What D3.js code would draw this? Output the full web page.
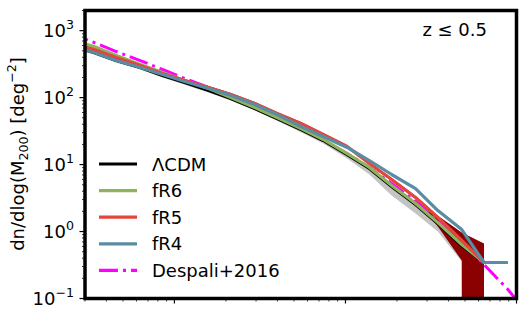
<!DOCTYPE html>
<html>
<head>
<meta charset="utf-8">
<script src="https://cdn.jsdelivr.net/npm/d3@7"></script>
<style>
  body { margin: 0; background: #fff; }
  svg { display: block; font-family: "DejaVu Sans", sans-serif; }
</style>
</head>
<body>
<svg id="chart" width="526" height="317"></svg>
<script>
// mass bins, log10(M200)
const logM = [13.39, 13.53, 13.66, 13.80, 13.93, 14.06, 14.20, 14.33, 14.47, 14.60,
  14.74, 14.87, 15.01, 15.14, 15.27, 15.41, 15.54, 15.68, 15.81, 15.95];

const lcdm = [600, 472, 358, 282, 214, 168, 128, 97, 68.8, 48.8,
  33.4, 22.9, 14.1, 8.74, 4.71, 2.53, 1.32, 0.619, 0.345, null];
const lcdmLo = [558, 439, 333, 262, 199, 156, 119, 90, 64, 45,
  30.5, 20.6, 12.3, 7.11, 3.45, 1.86, 1.0, 0.357, 0, null];
const lcdmHi = [642, 505, 383, 302, 229, 180, 137, 104, 74, 52,
  36, 24.5, 15.2, 9.5, 5.2, 2.8, 1.5, 0.843, 0.663, null];

const fR6 = [738, 580, 425, 312, 237, 180, 137, 100, 71.1, 50.5,
  34.6, 23.7, 14.6, 9.04, 4.87, 2.62, 1.36, 0.64, 0.345, null];

const fR5 = [643, 523, 397, 302, 229, 180, 142, 111, 81.7, 57.9,
  41.1, 28.1, 18.6, 10.4, 5.98, 3.22, 1.62, 0.735, 0.345, null];
const fR5Lo = [611, 497, 377, 287, 218, 171, 135, 105, 77.6, 55.0,
  39.0, 26.7, 17.7, 9.9, 5.68, 3.06, 1.19, 0.369, 0, null];
const fR5Hi = [675, 549, 417, 317, 240, 189, 149, 117, 85.8, 60.8,
  43.2, 29.5, 19.5, 10.9, 6.3, 3.4, 1.72, 0.967, 0.663, null];

const fR4 = [600, 472, 358, 282, 221, 174, 137, 108, 78.9, 56.0,
  37.1, 26.3, 18.0, 11.5, 7.11, 4.39, 2.06, 1.07, 0.345, 0.345];

const despaliLogM = [13.39, 13.53, 13.66, 13.80, 13.93, 14.06, 14.20, 14.33, 14.47, 14.60,
  14.74, 14.87, 15.01, 15.14, 15.27, 15.41, 15.54, 15.68, 15.81, 15.95, 16.08];
const despali = [907, 665, 488, 358, 263, 193, 142, 104, 73.6, 52.2,
  34.6, 22.9, 14.6, 9.04, 5.21, 2.81, 1.46, 0.709, 0.322, 0.136, 0.054];

const yTicks = [0.1, 1, 10, 100, 1000];
const yTickExp = ["\u22121", "0", "1", "2", "3"];

const series = [
  { name: "\u039bCDM", values: lcdm, color: "#000000" },
  { name: "fR6", values: fR6, color: "#8db35c" },
  { name: "fR5", values: fR5, color: "#e2473b" },
  { name: "fR4", values: fR4, color: "#5a8ca6" },
];

const svg = d3.select("#chart");
const pL = 85, pR = 516.5, pT = 10.5, pB = 298.5;

const x = d3.scaleLog().domain([3e13, 1e16]).range([pL, pR]);
const y = d3.scaleLog().domain([0.1, 2000]).range([pB, pT]);

svg.append("defs").append("clipPath").attr("id", "clip")
  .append("rect")
  .attr("x", pL).attr("y", pT)
  .attr("width", pR - pL).attr("height", pB - pT);

const body = svg.append("g").attr("clip-path", "url(#clip)");

// lower bound of 0 drops far below the axis
const yLo = (v) => (v > 0 ? y(v) : pB + 20000);

function band(lo, hi) {
  const pts = logM.map((m, i) => ({ m: m, lo: lo[i], hi: hi[i] }));
  return d3.area()
    .defined((d) => d.hi != null)
    .x((d) => x(Math.pow(10, d.m)))
    .y0((d) => yLo(d.lo))
    .y1((d) => y(d.hi))(pts);
}

body.append("path").attr("d", band(lcdmLo, lcdmHi)).attr("fill", "#c4c4c4");
body.append("path").attr("d", band(fR5Lo, fR5Hi)).attr("fill", "#8b0000");

const line = d3.line()
  .defined((d) => d[1] != null)
  .x((d) => x(Math.pow(10, d[0])))
  .y((d) => y(d[1]));

body.append("path")
  .attr("d", line(despaliLogM.map((m, i) => [m, despali[i]])))
  .attr("fill", "none")
  .attr("stroke", "#ff00ff")
  .attr("stroke-width", 3)
  .attr("stroke-dasharray", "19,5,3,5");

series.forEach((s) => {
  body.append("path")
    .attr("d", line(logM.map((m, i) => [m, s.values[i]])))
    .attr("fill", "none")
    .attr("stroke", s.color)
    .attr("stroke-width", 3.2)
    .attr("stroke-linejoin", "round");
});

// ticks
const minorY = [];
[0.1, 1, 10, 100, 1000].forEach((d) => {
  for (let k = 2; k <= 9; k++) if (d * k <= 2000) minorY.push(d * k);
});
svg.append("g").selectAll("line").data(minorY).join("line")
  .attr("x1", pL).attr("x2", pL - 3)
  .attr("y1", (d) => y(d)).attr("y2", (d) => y(d))
  .attr("stroke", "#000").attr("stroke-width", 0.8);
svg.append("g").selectAll("line").data(yTicks).join("line")
  .attr("x1", pL).attr("x2", pL - 5.5)
  .attr("y1", (d) => y(d)).attr("y2", (d) => y(d))
  .attr("stroke", "#000").attr("stroke-width", 1.2);

const minorX = [];
[1e13, 1e14, 1e15].forEach((d) => {
  for (let k = 2; k <= 9; k++) if (d * k >= 3e13) minorX.push(d * k);
});
svg.append("g").selectAll("line").data(minorX).join("line")
  .attr("x1", (d) => x(d)).attr("x2", (d) => x(d))
  .attr("y1", pB).attr("y2", pB + 3)
  .attr("stroke", "#000").attr("stroke-width", 0.8);
svg.append("g").selectAll("line").data([1e14, 1e15, 1e16]).join("line")
  .attr("x1", (d) => x(d)).attr("x2", (d) => x(d))
  .attr("y1", pB).attr("y2", pB + 5)
  .attr("stroke", "#000").attr("stroke-width", 1.2);

const labels = svg.append("g").attr("font-size", 18).attr("fill", "#000");
yTicks.forEach((d, i) => {
  const t = labels.append("text")
    .attr("x", pL - 11)
    .attr("y", y(d) + 6.5)
    .attr("text-anchor", "end");
  t.append("tspan").text("10");
  t.append("tspan").attr("dy", -8).attr("font-size", 12.6).text(yTickExp[i]);
});

// frame
svg.append("rect")
  .attr("x", pL).attr("y", pT)
  .attr("width", pR - pL).attr("height", pB - pT)
  .attr("fill", "none").attr("stroke", "#000").attr("stroke-width", 3.5);

// y label
const yl = svg.append("text")
  .attr("transform", "translate(24,154) rotate(-90)")
  .attr("text-anchor", "middle")
  .attr("font-size", 18);
yl.append("tspan").text("dn/dlog(M");
yl.append("tspan").attr("dy", 4).attr("font-size", 12.6).text("200");
yl.append("tspan").attr("dy", -4).text(") [deg");
yl.append("tspan").attr("dy", -8).attr("font-size", 12.6).text("\u22122");
yl.append("tspan").attr("dy", 8).text("]");

svg.append("text")
  .attr("x", 487).attr("y", 36)
  .attr("text-anchor", "end")
  .attr("font-size", 18)
  .text("z \u2264 0.5");

// legend
const legendItems = series.concat([{ name: "Despali+2016", color: "#ff00ff", dash: true }]);
const lg = svg.append("g");
legendItems.forEach((s, i) => {
  const ly = 164 + i * 26.6;
  lg.append("line")
    .attr("x1", 99).attr("x2", 137)
    .attr("y1", ly).attr("y2", ly)
    .attr("stroke", s.color)
    .attr("stroke-width", 3.2)
    .attr("stroke-dasharray", s.dash ? "19,5,3,5" : null);
  lg.append("text")
    .attr("x", 152).attr("y", ly + 6.5)
    .attr("font-size", 18)
    .text(s.name);
});
</script>
</body>
</html>
